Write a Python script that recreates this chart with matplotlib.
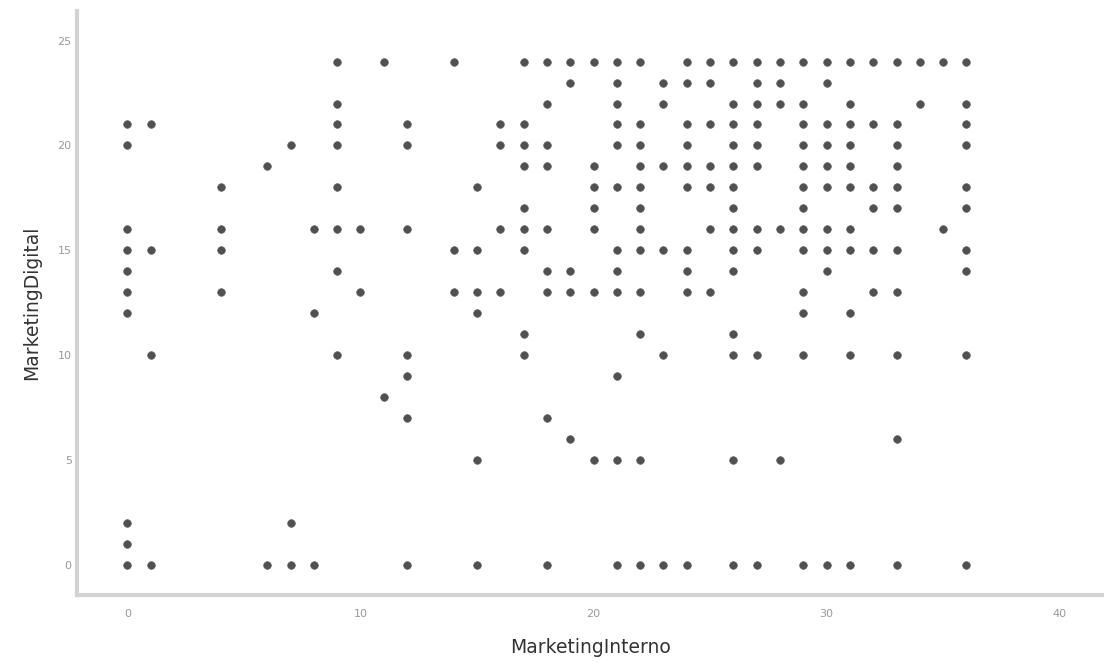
import matplotlib
matplotlib.use("Agg")
import matplotlib.pyplot as plt

# MarketingDigital value -> MarketingInterno values observed at that level
rows = {
    24: [9, 11, 14, 17, 18, 19, 20, 21, 22, 24, 25, 26, 27, 28, 29, 30, 31, 32, 33, 34, 35, 36],
    23: [19, 21, 23, 24, 25, 27, 28, 30],
    22: [9, 18, 21, 23, 26, 27, 28, 29, 31, 34, 36],
    21: [0, 1, 9, 12, 16, 17, 21, 22, 24, 25, 26, 27, 29, 30, 31, 32, 33, 36],
    20: [0, 7, 9, 12, 16, 17, 18, 21, 22, 24, 26, 27, 29, 30, 31, 33, 36],
    19: [6, 17, 18, 20, 22, 23, 24, 25, 26, 27, 29, 30, 31, 33],
    18: [4, 9, 15, 20, 21, 22, 24, 25, 26, 29, 30, 31, 32, 33, 36],
    17: [17, 20, 22, 26, 29, 32, 33, 36],
    16: [0, 4, 8, 9, 10, 12, 16, 17, 18, 20, 22, 25, 26, 27, 28, 29, 30, 31, 35],
    15: [0, 1, 4, 14, 15, 17, 21, 22, 23, 24, 26, 27, 29, 30, 31, 32, 33, 36],
    14: [0, 9, 18, 19, 21, 24, 26, 30, 36],
    13: [0, 4, 10, 14, 15, 16, 18, 19, 20, 21, 22, 24, 25, 29, 32, 33],
    12: [0, 8, 15, 29, 31],
    11: [17, 22, 26],
    10: [1, 9, 12, 17, 23, 26, 27, 29, 31, 33, 36],
    9: [12, 21],
    8: [11],
    7: [12, 18],
    6: [19, 33],
    5: [15, 20, 21, 22, 26, 28],
    2: [0, 7],
    1: [0],
    0: [0, 1, 6, 7, 8, 12, 15, 18, 21, 22, 23, 24, 26, 27, 29, 30, 31, 33, 36],
}

interno = []
digital = []
for yv, xs in rows.items():
    for xv in xs:
        interno.append(xv)
        digital.append(yv)

fig = plt.figure(figsize=(11.04, 6.63), dpi=100)
ax = fig.add_axes([0.070, 0.103, 0.930, 0.880])

ax.scatter(interno, digital, s=30, color="#505050", edgecolors="#5a5a5a",
           linewidths=0.5, zorder=3)

ax.set_xlim(-2.15, 41.9)
ax.set_ylim(-1.43, 26.4)
ax.set_xticks([0, 10, 20, 30, 40])
ax.set_yticks([0, 5, 10, 15, 20, 25])

for side in ["top", "right"]:
    ax.spines[side].set_visible(False)
for side in ["left", "bottom"]:
    ax.spines[side].set_color("#d2d2d2")
    ax.spines[side].set_linewidth(3)

ax.tick_params(axis="both", length=0, labelsize=8, labelcolor="#9a9a9a")
ax.tick_params(axis="x", pad=10)
ax.tick_params(axis="y", pad=4)

ax.set_xlabel("MarketingInterno", fontsize=13.5, color="#333333", labelpad=14)
ax.set_ylabel("MarketingDigital", fontsize=13.5, color="#333333", labelpad=12)

fig.savefig("out.png", dpi=100)
